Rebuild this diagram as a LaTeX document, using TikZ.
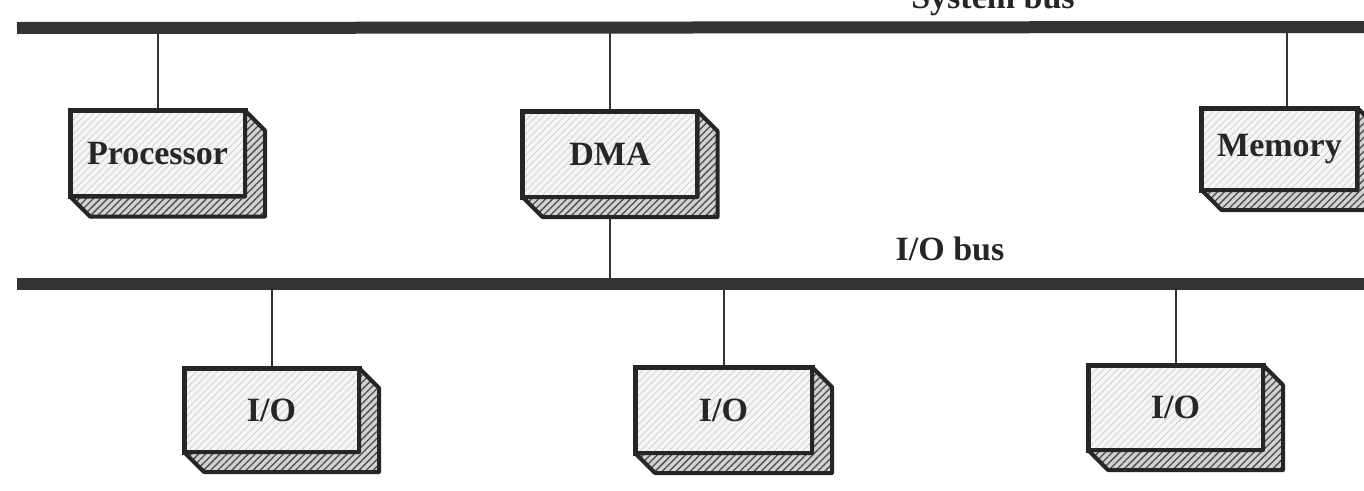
\documentclass[tikz,border=0pt]{standalone}
\usepackage{fontspec}
\setmainfont{Liberation Serif}
\usetikzlibrary{patterns.meta,backgrounds}

\begin{document}
\begin{tikzpicture}[
  x=1pt, y=-1pt,
  unit/.style={draw=black!85, line width=5pt, outer sep=0pt, inner sep=0pt,
    minimum width=175pt, minimum height=86pt,
    preaction={fill=gray!8},
    pattern={Lines[angle=45,distance=5pt,line width=0.7pt]}, pattern color=gray!40,
    font=\fontsize{34}{36}\selectfont\bfseries, text=black!85},
  side/.style={draw=black!85, line width=4pt, line join=round,
    preaction={fill=gray!35},
    pattern={Lines[angle=45,distance=5pt,line width=1.3pt]}, pattern color=black!70},
  bus/.style={draw=black!80, line width=12pt},
  link/.style={draw=black!80, line width=2pt},
  lbl/.style={font=\fontsize{34}{36}\selectfont\bfseries, text=black!85}
]
  \useasboundingbox (0,0) rectangle (1364,490);

  % buses
  \coordinate (sysL) at (17,28);
  \coordinate (sysR) at (1364,27);
  \coordinate (ioL) at (17,284);
  \coordinate (ioR) at (1364,284);
  \node[lbl, anchor=base] (syslabel) at (993,8) {System bus};
  \node[lbl] (iolabel) at (950,249) {I/O bus};

  % units on the system bus
  \node[unit] (proc) at (157.5,153.5) {Processor};
  \node[unit] (dma) at (610,154) {DMA};
  \node[unit, minimum width=156pt, minimum height=82pt] (mem) at (1279.5,149) {Memory};

  % units on the I/O bus
  \node[unit, minimum height=84pt] (io1) at (271.5,410) {I/O};
  \node[unit, minimum width=177pt] (io2) at (723.5,410) {I/O};
  \node[unit, minimum height=85pt] (io3) at (1175.5,407.5) {I/O};

  % depth of the boxes
  \foreach \n in {proc,dma,mem,io1,io2,io3}
    \draw[side] (\n.north east) -- ++(20,20) -- ([shift={(20,20)}]\n.south east)
      -- ([shift={(20,20)}]\n.south west) -- (\n.south west) -- (\n.south east) -- cycle;

  \begin{scope}[on background layer]
    \draw[bus] (sysL) -- (sysR);
    \draw[bus] (ioL) -- (ioR);
    \draw[link] (proc.north) -- (proc.north |- sysL);
    \draw[link] (dma.north) -- (dma.north |- sysL);
    \draw[link] ([xshift=7pt]mem.north) -- ([xshift=7pt]mem.north |- sysL);
    \draw[link] (dma.south) -- (dma.south |- ioL);
    \draw[link] (io1.north) -- (io1.north |- ioL);
    \draw[link] (io2.north) -- (io2.north |- ioL);
    \draw[link] (io3.north) -- (io3.north |- ioL);
  \end{scope}
\end{tikzpicture}
\end{document}
